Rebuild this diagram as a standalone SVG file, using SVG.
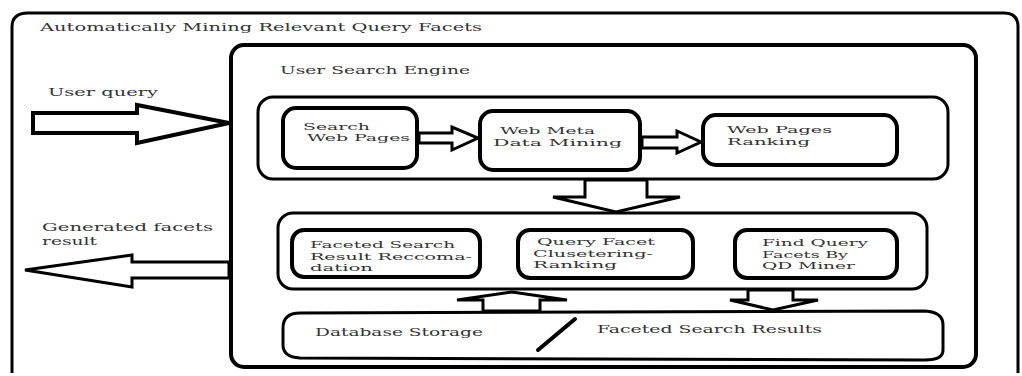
<svg xmlns="http://www.w3.org/2000/svg" width="1022" height="376" viewBox="0 0 1022 376">
<style>
.box{fill:#fff;stroke:#000;stroke-width:3}
.node{fill:#fff;stroke:#000;stroke-width:4}
.arr{fill:#fff;stroke:#000;stroke-width:3;stroke-linejoin:miter}
text{font-family:"DejaVu Serif","Liberation Serif",serif;font-size:11px;fill:#333}
.n{font-size:10px}
</style>
<rect width="1022" height="376" fill="#fff"/>
<g id="outer">
<path class="box" d="M12,373 L12,27 Q12,13 28,13 L1004,13 Q1018,13 1018,27 L1018,373" />
<text x="40" y="31" textLength="442" lengthAdjust="spacingAndGlyphs">Automatically Mining Relevant Query Facets</text>
</g>
<g id="engine">
<rect class="box" x="231" y="45" width="745" height="322" rx="13" style="stroke-width:4"/>
<text x="280" y="74" textLength="190" lengthAdjust="spacingAndGlyphs">User Search Engine</text>
</g>
<g id="top-group"><rect class="box" x="258" y="97" width="690" height="82" rx="15"/></g>
<g id="bottom-group"><rect class="box" x="278" y="213" width="649" height="76" rx="15"/></g>
<g id="storage">
<path class="box" d="M300,313 L925,311 Q943,312 943,325 L943,350 Q943,360 925,360 L300,358 Q283,357 283,345 L283,328 Q283,313 300,313 Z"/>
<text x="315" y="336" textLength="168" lengthAdjust="spacingAndGlyphs">Database Storage</text>
<text x="597" y="333" textLength="225" lengthAdjust="spacingAndGlyphs">Faceted Search Results</text>
<line x1="538" y1="350" x2="575" y2="319" stroke="#000" stroke-width="4" stroke-linecap="round"/>
</g>
<g id="search-web-pages">
<rect class="node" x="283" y="108" width="134" height="60" rx="13"/>
<text class="n" x="303" y="130" textLength="67" lengthAdjust="spacingAndGlyphs">Search</text>
<text class="n" x="307" y="141" textLength="103" lengthAdjust="spacingAndGlyphs">Web Pages</text>
</g>
<g id="web-meta">
<rect class="node" x="480" y="111" width="160" height="59" rx="13"/>
<text class="n" x="500" y="134" textLength="95" lengthAdjust="spacingAndGlyphs">Web Meta</text>
<text class="n" x="493" y="146" textLength="129" lengthAdjust="spacingAndGlyphs">Data Mining</text>
</g>
<g id="ranking">
<rect class="node" x="703" y="115" width="194" height="50" rx="13"/>
<text class="n" x="727" y="133" textLength="105" lengthAdjust="spacingAndGlyphs">Web Pages</text>
<text class="n" x="727" y="145" textLength="83" lengthAdjust="spacingAndGlyphs">Ranking</text>
</g>
<g id="faceted-reco">
<rect class="node" x="292" y="230" width="188" height="47" rx="12"/>
<text class="n" x="310" y="248" textLength="145" lengthAdjust="spacingAndGlyphs">Faceted Search</text>
<text class="n" x="310" y="260" textLength="162" lengthAdjust="spacingAndGlyphs">Result Reccoma-</text>
<text class="n" x="310" y="271" textLength="63" lengthAdjust="spacingAndGlyphs">dation</text>
</g>
<g id="query-facet">
<rect class="node" x="518" y="230" width="175" height="48" rx="12"/>
<text class="n" x="537" y="245" textLength="118" lengthAdjust="spacingAndGlyphs">Query Facet</text>
<text class="n" x="533" y="257" textLength="120" lengthAdjust="spacingAndGlyphs">Clusetering-</text>
<text class="n" x="533" y="268" textLength="84" lengthAdjust="spacingAndGlyphs">Ranking</text>
</g>
<g id="find-query">
<rect class="node" x="735" y="230" width="162" height="48" rx="12"/>
<text class="n" x="762" y="246" textLength="106" lengthAdjust="spacingAndGlyphs">Find Query</text>
<text class="n" x="762" y="258" textLength="86" lengthAdjust="spacingAndGlyphs">Facets By</text>
<text class="n" x="762" y="269" textLength="93" lengthAdjust="spacingAndGlyphs">QD Miner</text>
</g>
<g id="connectors">
<polygon class="arr" style="stroke-width:4" points="33,113 137,113 137,105 229,123 137,143 137,133 33,133"/>
<text x="48" y="96" textLength="110" lengthAdjust="spacingAndGlyphs">User query</text>
<polygon class="arr" style="stroke-width:3" points="229,262 132,262 132,255 25,270 132,287 132,278 229,278"/>
<text x="42" y="231" textLength="171" lengthAdjust="spacingAndGlyphs">Generated facets</text>
<text x="42" y="245" textLength="55" lengthAdjust="spacingAndGlyphs">result</text>
<polygon class="arr" points="419,133 452,133 452,127 478,138 452,150 452,143 419,143"/>
<polygon class="arr" points="642,137 677,137 677,131 701,142 677,153 677,148 642,148"/>
<polygon class="arr" points="585,180 585,197 553,197 616,212 680,197 647,197 647,180"/>
<polygon class="arr" points="483,311 483,300 457,300 512,292 567,300 540,300 540,311"/>
<polygon class="arr" points="748,290 748,300 730,300 773,310 818,300 793,300 793,290"/>
</g>
</svg>
